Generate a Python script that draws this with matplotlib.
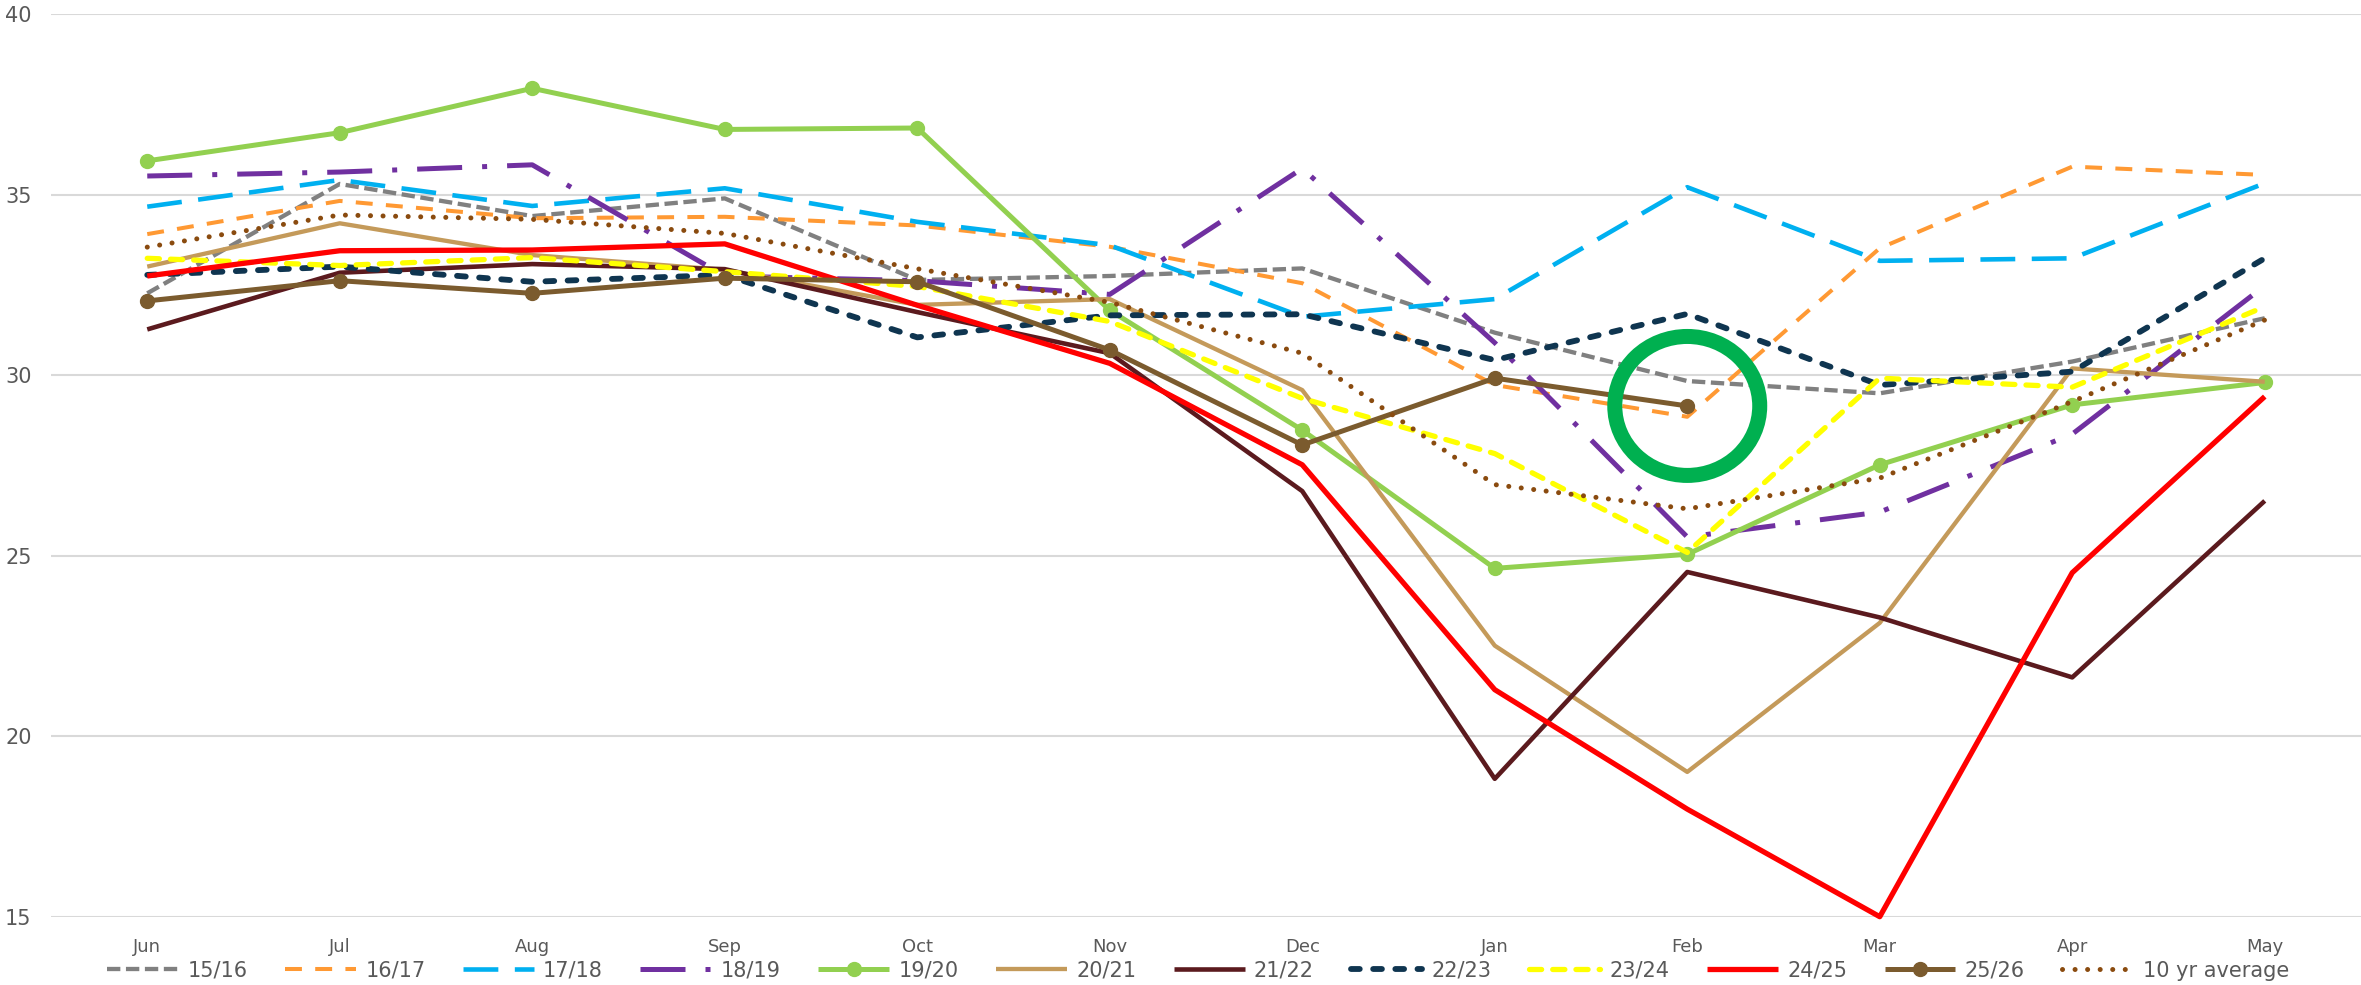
import numpy as np
import matplotlib.pyplot as plt
from matplotlib.patches import Ellipse

# Monthly values
months = ['Jun', 'Jul', 'Aug', 'Sep', 'Oct', 'Nov', 'Dec', 'Jan', 'Feb', 'Mar', 'Apr', 'May']

s15_16 = [32.27, 35.30, 34.41, 34.90, 32.64, 32.75, 32.96, 31.18, 29.84, 29.50, 30.38, 31.58]
s16_17 = [33.91, 34.83, 34.35, 34.39, 34.15, 33.56, 32.55, 29.73, 28.85, 33.52, 35.78, 35.55]
s17_18 = [34.67, 35.41, 34.69, 35.18, 34.25, 33.60, 31.62, 32.11, 35.21, 33.17, 33.24, 35.32]
s18_19 = [35.52, 35.63, 35.83, 32.75, 32.62, 32.24, 35.73, 30.90, 25.52, 26.21, 28.37, 32.48]
s19_20 = [35.94, 36.72, 37.95, 36.81, 36.85, 31.80, 28.48, 24.65, 25.04, 27.52, 29.18, 29.80]
s20_21 = [33.01, 34.21, 33.33, 32.92, 31.95, 32.11, 29.59, 22.51, 19.01, 23.14, 30.19, 29.82]
s21_22 = [31.27, 32.84, 33.08, 32.94, 31.75, 30.61, 26.79, 18.82, 24.55, 23.29, 21.63, 26.52]
s22_23 = [32.78, 33.01, 32.59, 32.78, 31.05, 31.66, 31.69, 30.42, 31.70, 29.73, 30.10, 33.24]
s23_24 = [33.24, 33.04, 33.26, 32.87, 32.46, 31.49, 29.36, 27.83, 25.09, 29.92, 29.67, 31.90]
s24_25 = [32.75, 33.45, 33.47, 33.64, 31.94, 30.33, 27.52, 21.29, 17.98, 15.00, 24.53, 29.41]
s25_26 = [32.06, 32.62, 32.27, 32.69, 32.59, 30.70, 28.07, 29.92, 29.15, np.nan, np.nan, np.nan]
avg10 = [33.55, 34.44, 34.32, 33.93, 32.95, 32.02, 30.61, 26.97, 26.30, 27.15, 29.27, 31.53]

labels = ['15/16', '16/17', '17/18', '18/19', '19/20', '20/21', '21/22',
          '22/23', '23/24', '24/25', '25/26', '10 yr average']
series = [s15_16, s16_17, s17_18, s18_19, s19_20, s20_21, s21_22,
          s22_23, s23_24, s24_25, s25_26, avg10]

styles = [
    dict(color='#808080', lw=3.1, dashes=(3.1, 1.3)),
    dict(color='#FF9933', lw=2.9, dashes=(4.2, 3.3)),
    dict(color='#00B0F0', lw=3.3, dashes=(7.6, 3.6)),
    dict(color='#7030A0', lw=3.6, dashes=(9.0, 4.0, 1, 4.0)),
    dict(color='#92D050', lw=3.6, marker='o', ms=10),
    dict(color='#C49A5A', lw=3.1),
    dict(color='#5B1A1E', lw=3.3),
    dict(color='#0F3550', lw=4.2, dashes=(1.5, 2.3), dash_capstyle='round'),
    dict(color='#FFFF00', lw=3.8, dashes=(2.3, 2.1), dash_capstyle='round'),
    dict(color='#FF0000', lw=3.8),
    dict(color='#7B5B2E', lw=3.6, marker='o', ms=10),
    dict(color='#8A4B0F', lw=3.6, dashes=(0.01, 2.5), dash_capstyle='round'),
]

fig = plt.figure(figsize=(23.61, 9.85), dpi=100)
ax = fig.add_axes([51 / 2361, (985 - 916.7) / 985, (2361 - 51) / 2361, (916.7 - 14.3) / 985])

x = np.arange(len(months))
for lab, vals, st in zip(labels, series, styles):
    ax.plot(x, vals, label=lab, clip_on=False, solid_capstyle='butt', **st)

# highlight ring around Feb
ax.add_patch(Ellipse((8, 29.15), 0.753, 3.85, fill=False, ec='#00B050', lw=10.8,
                     clip_on=False, zorder=5))

ax.set_xlim(-0.5, 11.5)
ax.set_ylim(15, 40)
ax.set_yticks([15, 20, 25, 30, 35, 40])
ax.set_xticks(x)
ax.set_xticklabels(months)
ax.grid(axis='y', color='#D9D9D9', lw=1.5)
ax.set_axisbelow(True)
for sp in ax.spines.values():
    sp.set_visible(False)
ax.tick_params(axis='y', length=0, pad=14, labelsize=15, labelcolor='#595959')
ax.tick_params(axis='x', length=0, pad=15, labelsize=13, labelcolor='#595959')

leg = fig.legend(loc='center', bbox_to_anchor=(1198 / 2361, 14.4 / 985), ncol=12,
                 frameon=False, fontsize=15, handlelength=3.4, handletextpad=0.45,
                 columnspacing=1.8, numpoints=1, borderaxespad=0, borderpad=0)
for t in leg.get_texts():
    t.set_color('#595959')

fig.savefig('out.png', dpi=100)
